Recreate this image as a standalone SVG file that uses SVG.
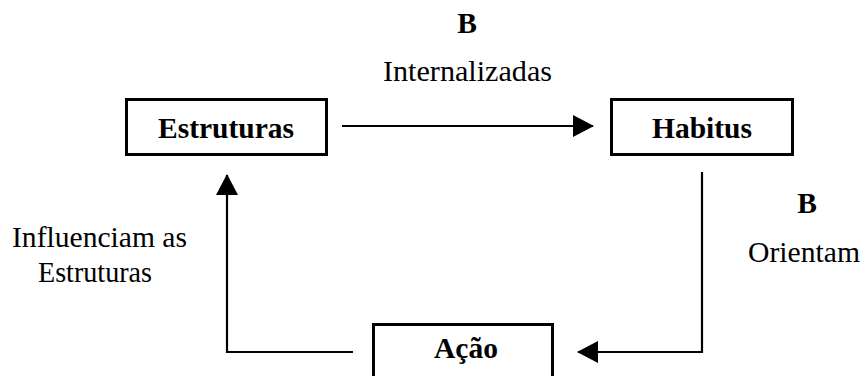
<svg xmlns="http://www.w3.org/2000/svg" width="863" height="376" viewBox="0 0 863 376">
<style>
.box{fill:#fff;stroke:#000;stroke-width:3}
.lbl{font-family:"Times New Roman","Times","Liberation Serif","Nimbus Roman","Nimbus Roman No9 L","FreeSerif","Noto Serif","DejaVu Serif",serif;font-size:30px;font-weight:normal;fill:#000}
.b{font-family:"Liberation Serif","Times New Roman",serif;font-weight:bold;font-size:29.5px}
.mid{text-anchor:middle}
.conn{fill:none;stroke:#000;stroke-width:2.2}
</style>
<defs>
<marker id="ah" markerUnits="userSpaceOnUse" markerWidth="22" markerHeight="24" refX="20" refY="11" orient="auto">
<path d="M0,0 L21,11 L0,22 z" fill="#000"/>
</marker>
</defs>
<rect width="863" height="376" fill="#fff"/>
<g id="connectors">
<path class="conn" d="M342,126 H593" marker-end="url(#ah)"/>
<path class="conn" d="M702,172 V352 H578" marker-end="url(#ah)"/>
<path class="conn" d="M353,352 H227 V175" marker-end="url(#ah)"/>
</g>
<g id="node-estruturas">
<rect class="box" x="126.5" y="99.5" width="200" height="55"/>
<text class="lbl b mid" x="226" y="138">Estruturas</text>
</g>
<g id="node-habitus">
<rect class="box" x="611.5" y="99.5" width="181" height="55"/>
<text class="lbl b mid" x="702" y="138">Habitus</text>
</g>
<g id="node-acao">
<rect class="box" x="373.5" y="324.5" width="179" height="70"/>
<text class="lbl b mid" x="466" y="358">Ação</text>
</g>
<g id="labels">
<text class="lbl b mid" x="467" y="33">B</text>
<text class="lbl" x="383" y="81" textLength="169" lengthAdjust="spacingAndGlyphs">Internalizadas</text>
<text class="lbl b mid" x="807" y="213">B</text>
<text class="lbl" x="748" y="262" textLength="112" lengthAdjust="spacingAndGlyphs">Orientam</text>
<text class="lbl" x="12" y="247" textLength="175" lengthAdjust="spacingAndGlyphs">Influenciam as</text>
<text class="lbl" x="38" y="282" textLength="114" lengthAdjust="spacingAndGlyphs">Estruturas</text>
</g>
</svg>
